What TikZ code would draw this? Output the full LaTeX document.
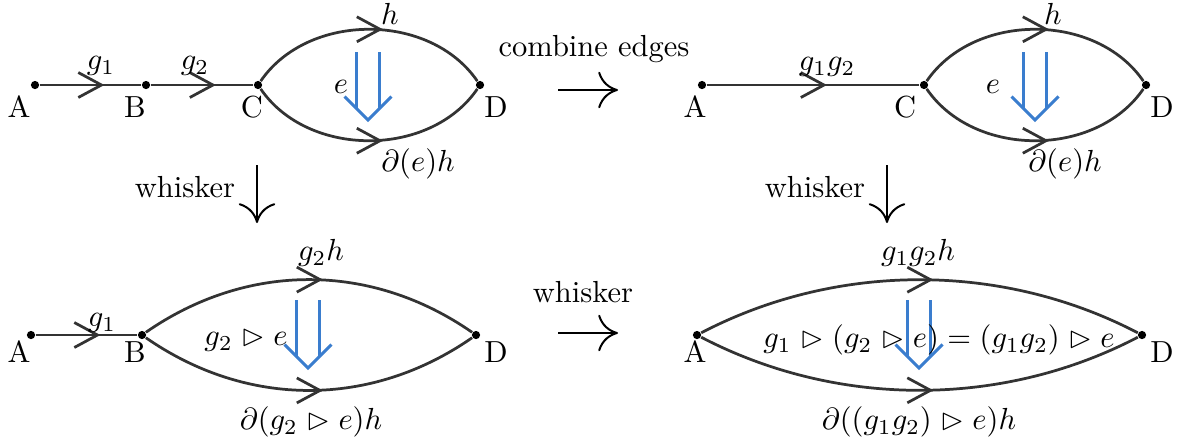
\documentclass[tikz,border=0pt]{standalone}
\usepackage{amssymb}
\usetikzlibrary{arrows.meta,decorations.markings}
\definecolor{edgegray}{RGB}{51,51,51}
\definecolor{twoblue}{RGB}{58,125,206}
\tikzset{
  vtx/.style={circle,fill=black,inner sep=0pt,minimum size=2.7pt},
  lbl/.style={inner sep=0pt},
  edge/.style={draw=edgegray,line width=0.9pt,postaction={decorate},
    decoration={markings,mark=at position 0.5 with {\draw[edgegray,line width=0.9pt] (-4pt,4.1pt) -- (3.6pt,0pt) -- (-4pt,-4.1pt);}}},
  bigarrow/.style={line width=0.65pt,-{Computer Modern Rightarrow[length=6.5pt,width=12pt]}},
  bluestroke/.style={draw=twoblue,line width=1pt},
  pics/twocell/.style={code={
    \draw[bluestroke] (-11.5,-68) -- (-11.5,-11.5);
    \draw[bluestroke] (11.5,-68) -- (11.5,-11.5);
    \draw[bluestroke] (-23.5,-23.5) -- (0,0) -- (23.5,-23.5);
  }},
}
\begin{document}
\begin{tikzpicture}[x=0.328pt,y=-0.328pt]
\useasboundingbox (0,0) rectangle (1184,445);

% ---------- top-left panel ----------
\node[vtx] (A1) at (35,85) {};
\node[vtx] (B1) at (146,85) {};
\node[vtx] (C1) at (258,85) {};
\node[vtx] (D1) at (480,85) {};
\draw[edge] (A1) -- (B1);
\draw[edge] (B1) -- (C1);
\draw[edge] (C1) .. controls +(50,-73) and +(-50,-73) .. (D1);
\draw[edge] (C1) .. controls +(50,73) and +(-50,73) .. (D1);
\pic at (368,120) {twocell};
\node[lbl] (lA1) at (19,107) {A};
\node[lbl] (lB1) at (135,107) {B};
\node[lbl] (lC1) at (252,107) {C};
\node[lbl] (lD1) at (496,107) {D};
\node[lbl] (g1a) at (101,66) {$g_1$};
\node[lbl] (g2a) at (195,66) {$g_2$};
\node[lbl] (h1) at (390,14) {$h$};
\node[lbl] (dh1) at (418,164) {$\partial(e)h$};
\node[lbl] (e1) at (341,87) {$e$};

% ---------- top-right panel ----------
\node[vtx] (A2) at (702,85) {};
\node[vtx] (C2) at (924,85) {};
\node[vtx] (D2) at (1146,85) {};
\draw[edge] (A2) -- (C2);
\draw[edge] (C2) .. controls +(50,-73) and +(-50,-73) .. (D2);
\draw[edge] (C2) .. controls +(50,73) and +(-50,73) .. (D2);
\pic at (1035,120) {twocell};
\node[lbl] (lA2) at (695,107) {A};
\node[lbl] (lC2) at (905,107) {C};
\node[lbl] (lD2) at (1162,107) {D};
\node[lbl] (g12a) at (827,67) {$g_1g_2$};
\node[lbl] (h2) at (1053,14) {$h$};
\node[lbl] (dh2) at (1065,164) {$\partial(e)h$};
\node[lbl] (e2) at (993,87) {$e$};

% ---------- bottom-left panel ----------
\node[vtx] (A3) at (31,335) {};
\node[vtx] (B3) at (142,335) {};
\node[vtx] (D3) at (476,335) {};
\draw[edge] (A3) -- (B3);
\draw[edge] (B3) .. controls +(105,-73) and +(-105,-73) .. (D3);
\draw[edge] (B3) .. controls +(105,73) and +(-105,73) .. (D3);
\pic at (308,368) {twocell};
\node[lbl] (lA3) at (19,352) {A};
\node[lbl] (lB3) at (135,352) {B};
\node[lbl] (lD3) at (496,352) {D};
\node[lbl] (g1b) at (102,323) {$g_1$};
\node[lbl] (g2h) at (321,253) {$g_2h$};
\node[lbl] (dh3) at (311,422) {$\partial(g_2\vartriangleright e)h$};
\node[lbl] (e3) at (246,340) {$g_2\vartriangleright e$};

% ---------- bottom-right panel ----------
\node[vtx] (A4) at (697,335) {};
\node[vtx] (D4) at (1142,335) {};
\draw[edge] (A4) .. controls +(140,-73) and +(-140,-73) .. (D4);
\draw[edge] (A4) .. controls +(140,73) and +(-140,73) .. (D4);
\pic at (919,368) {twocell};
\node[lbl] (lA4) at (695,352) {A};
\node[lbl] (lD4) at (1162,352) {D};
\node[lbl] (g12h) at (918,253) {$g_1g_2h$};
\node[lbl] (dh4) at (919,422) {$\partial((g_1g_2)\vartriangleright e)h$};
\node[lbl] (e4) at (939,340) {$g_1\vartriangleright(g_2\vartriangleright e)=(g_1g_2)\vartriangleright e$};

% ---------- arrows between panels ----------
\coordinate (ceS) at (558,90);
\coordinate (ceE) at (618,90);
\draw[bigarrow] (ceS) -- (ceE);
\node[lbl] (ce) at (594,49) {combine edges};

\coordinate (wlS) at (257,165);
\coordinate (wlE) at (257,223);
\draw[bigarrow] (wlS) -- (wlE);
\node[lbl] (wl) at (185,187) {whisker};

\coordinate (wrS) at (887,165);
\coordinate (wrE) at (887,223);
\draw[bigarrow] (wrS) -- (wrE);
\node[lbl] (wr) at (815,187) {whisker};

\coordinate (wbS) at (558,333);
\coordinate (wbE) at (618,333);
\draw[bigarrow] (wbS) -- (wbE);
\node[lbl] (wb) at (583,292) {whisker};
\end{tikzpicture}
\end{document}
